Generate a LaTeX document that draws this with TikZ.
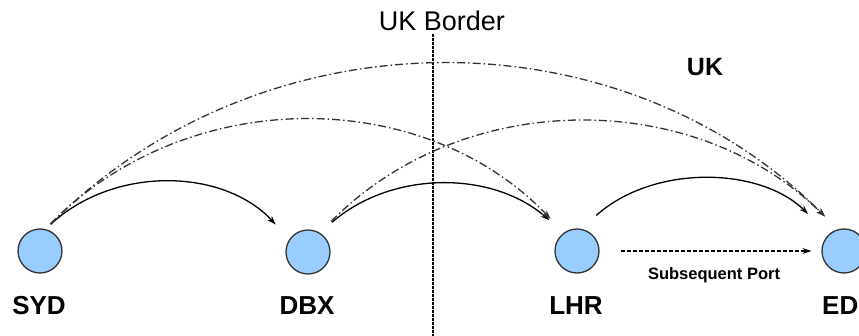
\documentclass[tikz,border=0pt]{standalone}
\usepackage{fontspec}
\setmainfont{Liberation Sans}
\usepackage{tikz}
\usetikzlibrary{arrows.meta}

\begin{document}
\begin{tikzpicture}[x=1pt,y=1pt,
  port/.style={circle,draw=black!80,line width=1.3pt,fill={rgb,255:red,153;green,204;blue,255},minimum size=44pt,inner sep=0pt},
  code/.style={font=\fontsize{26}{30}\selectfont\bfseries},
  leg/.style={line width=1.3pt,-{Stealth[length=9pt,width=6pt]}},
  hop/.style={leg,black!80,dash pattern=on 8pt off 3pt on 1.5pt off 3pt}]
  \useasboundingbox (0,0) rectangle (859,-336);
  \clip (0,0) rectangle (859,-336);
  \node[port] (syd) at (40,-251) {};
  \node[port] (dbx) at (308,-252) {};
  \node[port] (lhr) at (577,-251) {};
  \node[port] (edi) at (844,-251) {};
  \node[code] at (39,-306) {SYD};
  \node[code] at (307,-306) {DBX};
  \node[code] at (576,-306) {LHR};
  \node[code,anchor=west,inner sep=0pt] at (822,-306) {ED};
  \node[font=\fontsize{27}{30}\selectfont] (border) at (442,-21) {UK Border};
  \coordinate (borderend) at (433,-336);
  \draw[line width=2.4pt,dash pattern=on 2.5pt off 1.5pt] (border.south -| borderend) -- (borderend);
  \node[font=\fontsize{25}{30}\selectfont\bfseries] at (705,-67) {UK};
  % direct legs
  \draw[leg,shorten <=7pt,shorten >=20pt] (syd.76) to[bend left=45] (dbx.146);
  \draw[leg,shorten <=16pt,shorten >=19pt] (dbx.58) to[bend left=41] (lhr.126);
  \draw[leg,shorten <=20pt,shorten >=29pt] (lhr.79) to[bend left=43] (edi.132);
  % longer legs
  \draw[hop,shorten <=7pt,shorten >=19pt] (syd.76) to[bend left=46] (lhr.126);
  \draw[hop,shorten <=7pt,shorten >=18pt] (syd.76) to[bend left=45] (edi.106);
  \draw[hop,shorten <=16pt,shorten >=18pt] (dbx.58) to[bend left=45] (edi.106);
  % onward port
  \draw[line width=1.3pt,dash pattern=on 4pt off 2pt,-{Stealth[length=9pt,width=6pt]},shorten <=21pt,shorten >=10pt] (lhr) -- (edi);
  \node[font=\fontsize{16.5}{18}\selectfont\bfseries] at (714,-275) {Subsequent Port};
\end{tikzpicture}
\end{document}
